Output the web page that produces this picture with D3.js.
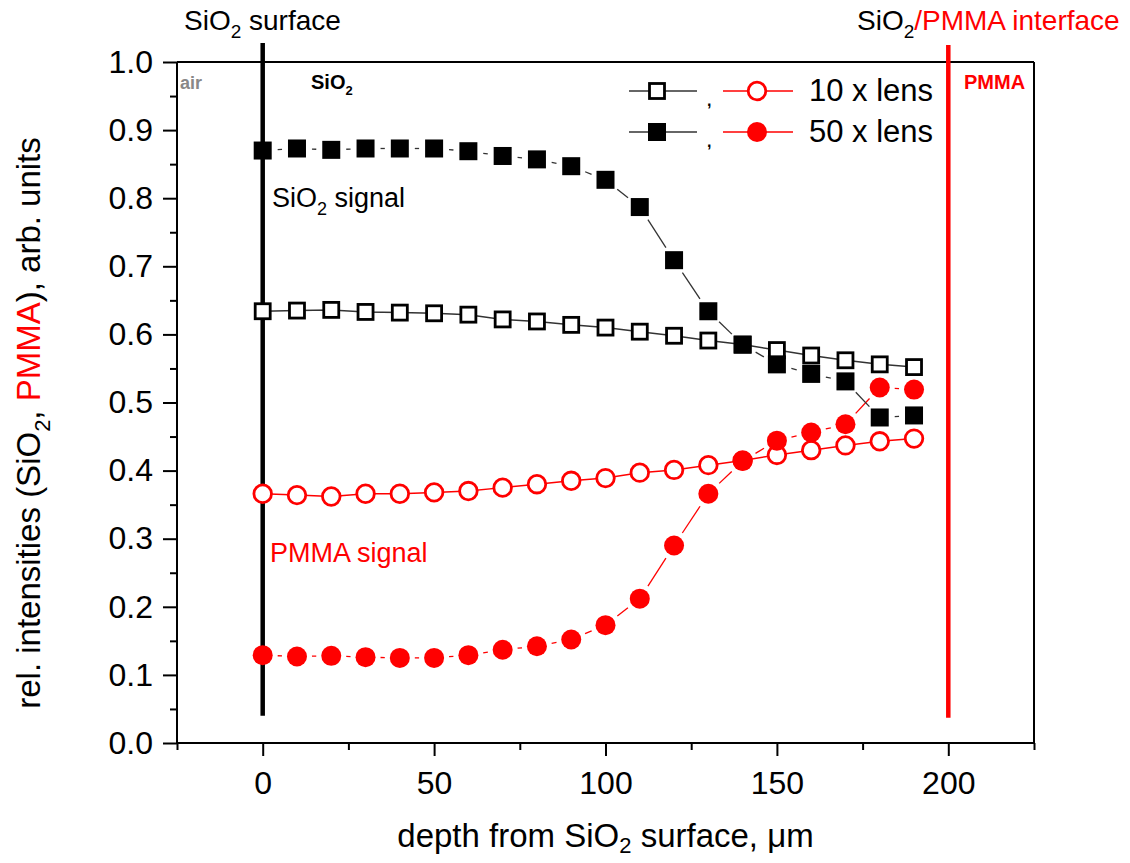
<!DOCTYPE html>
<html><head><meta charset="utf-8">
<script src="https://cdn.jsdelivr.net/npm/d3@7"></script>
<style>body{margin:0;background:#fff}svg{display:block;font-family:"Liberation Sans",Arial,sans-serif}</style>
</head><body>
<svg id="c" width="1130" height="863"></svg>
<script>
const depth = [0,10,20,30,40,50,60,70,80,90,100,110,120,130,140,150,160,170,180,190];
const sio2_10x = [0.634,0.635,0.636,0.633,0.632,0.631,0.629,0.622,0.619,0.614,0.610,0.604,0.598,0.591,0.585,0.577,0.569,0.562,0.556,0.552];
const sio2_50x = [0.870,0.873,0.871,0.873,0.873,0.873,0.869,0.862,0.857,0.847,0.827,0.787,0.709,0.634,0.585,0.556,0.542,0.531,0.478,0.481];
const pmma_10x = [0.366,0.364,0.362,0.366,0.366,0.368,0.370,0.375,0.380,0.385,0.389,0.397,0.401,0.408,0.415,0.423,0.430,0.437,0.443,0.447];
const pmma_50x = [0.129,0.127,0.128,0.126,0.125,0.125,0.129,0.137,0.142,0.152,0.173,0.212,0.290,0.366,0.414,0.444,0.456,0.468,0.522,0.519];
const xMajor = [0,50,100,150,200];
const xMinor = [-25,25,75,125,175,225];
const yMajor = [0,0.1,0.2,0.3,0.4,0.5,0.6,0.7,0.8,0.9,1.0];
const yMinor = [0.05,0.15,0.25,0.35,0.45,0.55,0.65,0.75,0.85,0.95];
const legendLabels = ["10 x lens","50 x lens"];

const RED = "#ff0000";
const svg = d3.select("#c");
const x = d3.scaleLinear([-25,225],[177,1034]);
const y = d3.scaleLinear([0,1],[743,62]);

// frame top/right
svg.append("line").attr("x1",x(-25)).attr("x2",x(225)).attr("y1",y(1)).attr("y2",y(1)).attr("stroke","#000").attr("stroke-width",2);
svg.append("line").attr("x1",x(225)).attr("x2",x(225)).attr("y1",y(1)).attr("y2",y(0)).attr("stroke","#000").attr("stroke-width",2);

// axes
const fmt = d3.format(".1f");
const gx = svg.append("g").attr("transform",`translate(0,${y(0)})`)
  .call(d3.axisBottom(x).tickValues(xMajor).tickSize(13).tickPadding(15).tickFormat(d3.format("d")));
const gxm = svg.append("g").attr("transform",`translate(0,${y(0)})`)
  .call(d3.axisBottom(x).tickValues(xMinor).tickSize(7).tickFormat(""));
const gy = svg.append("g").attr("transform",`translate(${x(-25)},0)`)
  .call(d3.axisLeft(y).tickValues(yMajor).tickSize(14).tickPadding(10).tickFormat(fmt));
const gym = svg.append("g").attr("transform",`translate(${x(-25)},0)`)
  .call(d3.axisLeft(y).tickValues(yMinor).tickSize(7).tickFormat(""));
[gx,gxm,gy,gym].forEach(g=>{
  g.select(".domain").attr("stroke-width",2).attr("stroke","#000");
  g.selectAll(".tick line").attr("stroke-width",2).attr("stroke","#000");
  g.selectAll("text").attr("font-size",32).attr("fill","#000").attr("font-family","Liberation Sans, Arial, sans-serif");
});
gxm.select(".domain").remove(); gym.select(".domain").remove();
gx.select(".domain").attr("d",`M${x(-25)},0H${x(225)}`);
gy.select(".domain").attr("d",`M0,${y(0)}V${y(1)}`);

// vertical marker lines
svg.append("line").attr("x1",x(0)).attr("x2",x(0)).attr("y1",43).attr("y2",y(0.04)).attr("stroke","#000").attr("stroke-width",4.5);
svg.append("line").attr("x1",x(200)).attr("x2",x(200)).attr("y1",45).attr("y2",y(0.037)).attr("stroke",RED).attr("stroke-width",4.5);

// helpers
function gapSegs(xs, ys, gap){
  const out=[];
  for(let i=0;i<xs.length-1;i++){
    const x1=x(xs[i]),y1=y(ys[i]),x2=x(xs[i+1]),y2=y(ys[i+1]);
    const dx=x2-x1,dy=y2-y1,L=Math.hypot(dx,dy);
    if(L>2*gap+1){const ux=dx/L,uy=dy/L;out.push([x1+ux*gap,y1+uy*gap,x2-ux*gap,y2-uy*gap]);}
  }
  return out;
}
function drawSeries(vals, color, shape, filled, gap){
  const g = svg.append("g");
  if(gap>0){
    g.selectAll("line").data(gapSegs(depth,vals,gap)).join("line")
      .attr("x1",d=>d[0]).attr("y1",d=>d[1]).attr("x2",d=>d[2]).attr("y2",d=>d[3])
      .attr("stroke",color==="#000"?"#333":color).attr("stroke-width",1.3);
  } else {
    g.append("path").datum(vals).attr("fill","none").attr("stroke",color==="#000"?"#333":color).attr("stroke-width",1.5)
      .attr("d",d3.line().x((d,i)=>x(depth[i])).y(d=>y(d)));
  }
  const pts = vals.map((v,i)=>[x(depth[i]),y(v)]);
  if(shape==="sq"){
    const s = filled?18:15;
    g.selectAll("rect.m").data(pts).join("rect").attr("class","m")
      .attr("x",d=>d[0]-s/2).attr("y",d=>d[1]-s/2).attr("width",s).attr("height",s)
      .attr("fill",filled?color:"#fff").attr("stroke",color).attr("stroke-width",filled?0:2.8);
  } else {
    const r = filled?10:8.8;
    g.selectAll("circle.m").data(pts).join("circle").attr("class","m")
      .attr("cx",d=>d[0]).attr("cy",d=>d[1]).attr("r",r)
      .attr("fill",filled?color:"#fff").attr("stroke",color).attr("stroke-width",filled?0:2.8);
  }
}
drawSeries(pmma_10x, RED, "ci", false, 0);
drawSeries(sio2_10x, "#000", "sq", false, 0);
drawSeries(pmma_50x, RED, "ci", true, 15);
drawSeries(sio2_50x, "#000", "sq", true, 15);

// texts
function sub(t, parts, size, subSize, shift){
  const s = shift===undefined ? size*0.3 : shift;
  parts.forEach(p=>{
    const ts = t.append("tspan").text(p.t).attr("fill",p.c||"#000");
    if(p.sub){ ts.attr("font-size",subSize).attr("dy",s); }
    else if(p.after){ ts.attr("dy",-s); }
  });
  return t;
}
sub(svg.append("text").attr("x",184).attr("y",30).attr("font-size",28),
  [{t:"SiO"},{t:"2",sub:true},{t:" surface",after:true}],28,19);
sub(svg.append("text").attr("x",857).attr("y",30).attr("font-size",28),
  [{t:"SiO"},{t:"2",sub:true},{t:"/PMMA interface",after:true,c:RED}],28,19);
svg.append("text").attr("x",180).attr("y",89).attr("font-size",18).attr("font-weight","bold").attr("fill","#888").text("air");
sub(svg.append("text").attr("x",311).attr("y",89).attr("font-size",20).attr("font-weight","bold"),
  [{t:"SiO"},{t:"2",sub:true}],20,13);
svg.append("text").attr("x",964).attr("y",89).attr("font-size",20).attr("font-weight","bold").attr("fill",RED).text("PMMA");
sub(svg.append("text").attr("x",272).attr("y",207).attr("font-size",27),
  [{t:"SiO"},{t:"2",sub:true},{t:" signal",after:true}],27,18);
svg.append("text").attr("x",270).attr("y",562).attr("font-size",27).attr("fill",RED).text("PMMA signal");

// legend
const legRows = [{y:91, filled:false, label:legendLabels[0]},{y:132, filled:true, label:legendLabels[1]}];
legRows.forEach(r=>{
  const g = svg.append("g");
  g.append("line").attr("x1",629).attr("x2",697).attr("y1",r.y).attr("y2",r.y).attr("stroke","#333").attr("stroke-width",1.5);
  if(r.filled) g.append("rect").attr("x",657-9).attr("y",r.y-9).attr("width",18).attr("height",18).attr("fill","#000");
  else g.append("rect").attr("x",657-7.5).attr("y",r.y-7.5).attr("width",15).attr("height",15).attr("fill","#fff").attr("stroke","#000").attr("stroke-width",2.8);
  g.append("text").attr("x",707).attr("y",r.y+15).attr("font-size",16).attr("font-weight","bold").text(",");
  g.append("line").attr("x1",723).attr("x2",793).attr("y1",r.y).attr("y2",r.y).attr("stroke",RED).attr("stroke-width",1.5);
  g.append("circle").attr("cx",757).attr("cy",r.y).attr("r",r.filled?10:8.8).attr("fill",r.filled?RED:"#fff").attr("stroke",RED).attr("stroke-width",r.filled?0:2.8);
  g.append("text").attr("x",809).attr("y",r.y+10).attr("font-size",31).text(r.label);
});

// axis titles
sub(svg.append("text").attr("x",x(100)).attr("y",847).attr("text-anchor","middle").attr("font-size",33),
  [{t:"depth from SiO"},{t:"2",sub:true},{t:" surface, μm",after:true}],33,22,6);
const yt = svg.append("text").attr("transform",`translate(40,423) rotate(-90)`).attr("text-anchor","middle").attr("font-size",33);
sub(yt,[{t:"rel. intensities (SiO"},{t:"2",sub:true},{t:", ",after:true},{t:"PMMA",c:RED},{t:"), arb. units"}],33,22);
</script>
</body></html>
